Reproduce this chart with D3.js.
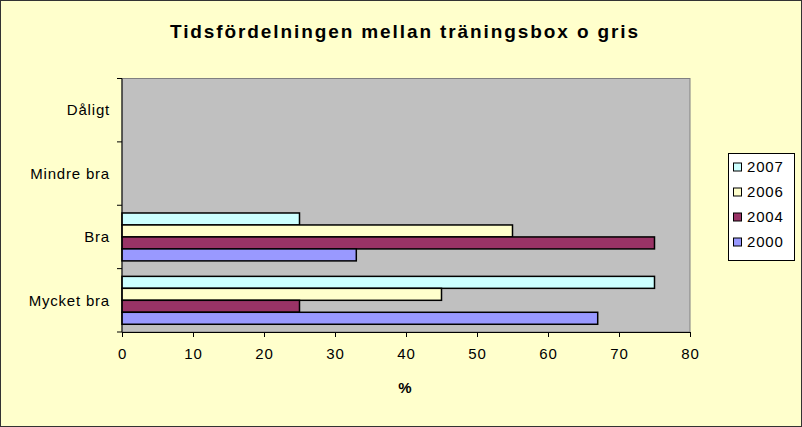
<!DOCTYPE html>
<html><head><meta charset="utf-8">
<script src="https://cdn.jsdelivr.net/npm/d3@7/dist/d3.min.js"></script>
<style>body{margin:0;background:#fff}svg{display:block;font-family:"Liberation Sans",Arial,sans-serif}</style>
</head><body><svg id="c" width="802" height="427"></svg>
<script>
const categories = ["Dåligt", "Mindre bra", "Bra", "Mycket bra"];
const seriesNames = ["2007", "2006", "2004", "2000"];
const values2007 = [null, null, 25, 75];
const values2006 = [null, null, 55, 45];
const values2004 = [null, null, 75, 25];
const values2000 = [null, null, 33, 67];
const xTicks = [0, 10, 20, 30, 40, 50, 60, 70, 80];
const colors = ["#CCFFFF", "#FFFFCC", "#993366", "#9999FF"];
const seriesValues = [values2007, values2006, values2004, values2000];

const svg = d3.select("#c");
svg.append("rect").attr("x",0.5).attr("y",0.5).attr("width",801).attr("height",426)
  .attr("fill","#FFFFCC").attr("stroke","#333").attr("stroke-width",1);

svg.append("text").attr("x",405).attr("y",38).attr("text-anchor","middle")
  .attr("font-size",19).attr("font-weight","bold").attr("letter-spacing",1.9)
  .text("Tidsfördelningen mellan träningsbox o gris");

const L=122, R=690, T=78.5, B=332;
const x = d3.scaleLinear().domain([0,80]).range([L,R]);
const y = d3.scaleBand().domain(categories).range([T,B]).padding(0);
const y1 = d3.scaleBand().domain(seriesNames).range([0,y.bandwidth()]).paddingInner(0).paddingOuter(0.646);

svg.append("rect").attr("x",L).attr("y",T).attr("width",R-L).attr("height",B-T)
  .attr("fill","#C0C0C0").attr("stroke","#808080").attr("stroke-width",1);

const data = [];
categories.forEach((c,i)=>seriesNames.forEach((s,j)=>{
  const v = seriesValues[j][i];
  if (v!=null) data.push({c,s,v,color:colors[j]});
}));
svg.append("g").selectAll("rect").data(data).join("rect")
  .attr("x",x(0)).attr("y",d=>y(d.c)+y1(d.s))
  .attr("width",d=>x(d.v)-x(0)).attr("height",y1.bandwidth())
  .attr("fill",d=>d.color).attr("stroke","#000").attr("stroke-width",1.5);

// x axis
const xa = svg.append("g").attr("transform",`translate(0,${B})`)
  .call(d3.axisBottom(x).tickValues(xTicks).tickSize(5).tickPadding(11).tickSizeOuter(0));
xa.select(".domain").attr("stroke","#000");
xa.selectAll("line").attr("stroke","#000");
xa.selectAll("text").attr("font-size",15).attr("letter-spacing",0.8).attr("fill","#000")
  .attr("font-family","Liberation Sans, Arial");

// y axis (ticks at band boundaries)
const yg = svg.append("g");
yg.append("line").attr("x1",L).attr("x2",L).attr("y1",T).attr("y2",B).attr("stroke","#000");
const bounds = categories.map(c=>y(c)).concat([B]);
yg.selectAll("line.t").data(bounds).join("line").attr("class","t")
  .attr("x1",L-5).attr("x2",L).attr("y1",d=>d).attr("y2",d=>d).attr("stroke","#000");
yg.selectAll("text").data(categories).join("text")
  .attr("x",110).attr("y",d=>y(d)+y.bandwidth()/2).attr("dy","0.35em")
  .attr("text-anchor","end").attr("font-size",15).attr("letter-spacing",0.8).text(d=>d);

svg.append("text").attr("x",405).attr("y",393).attr("text-anchor","middle")
  .attr("font-size",15).attr("font-weight","bold").text("%");

// legend
const lg = svg.append("g");
lg.append("rect").attr("x",728.5).attr("y",153.5).attr("width",66).attr("height",107)
  .attr("fill","#fff").attr("stroke","#000");
seriesNames.forEach((s,i)=>{
  const cy = 167 + i*25;
  lg.append("rect").attr("x",733.5).attr("y",cy-4).attr("width",8).attr("height",8)
    .attr("fill",colors[i]).attr("stroke","#000").attr("stroke-width",1);
  lg.append("text").attr("x",747).attr("y",cy).attr("dy","0.35em").attr("font-size",15)
    .attr("letter-spacing",0.8).text(s);
});
</script></body></html>
